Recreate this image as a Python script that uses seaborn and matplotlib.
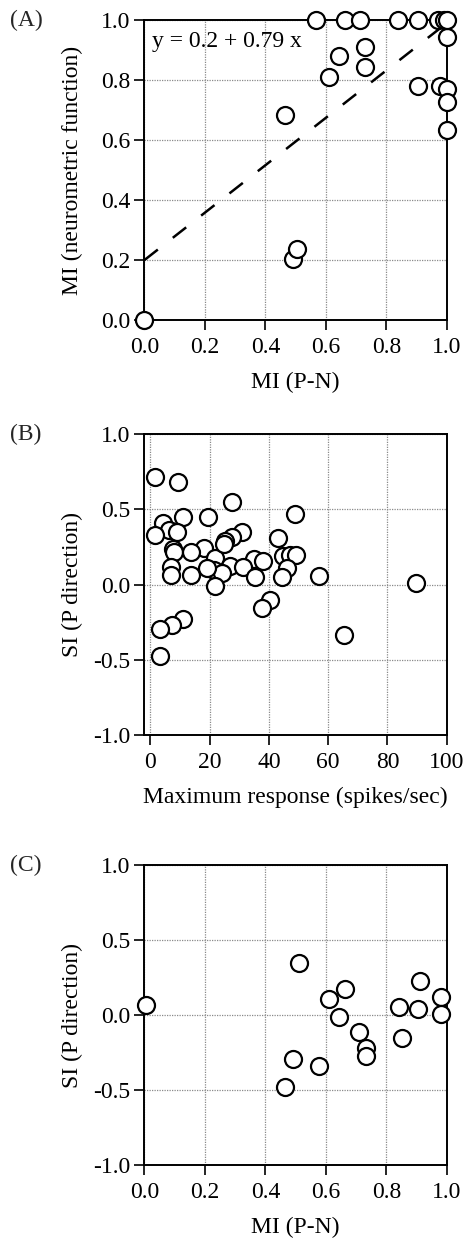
import numpy as np
import pandas as pd
import matplotlib
matplotlib.use("Agg")
import matplotlib.pyplot as plt
import seaborn as sns

# ---------------- data ----------------
# Panel A: MI (P-N) vs MI (neurometric function)
a_x = [0.0, 0.49, 0.505, 0.465, 0.568, 0.609, 0.645, 0.664, 0.714, 0.73, 0.73,
       0.84, 0.905, 0.905, 0.97, 0.978, 0.99, 1.0, 1.0, 1.0, 1.0, 1.0]
a_y = [0.0, 0.205, 0.237, 0.683, 1.0, 0.809, 0.88, 1.0, 1.0, 0.911, 0.844,
       1.0, 1.0, 0.781, 1.0, 0.781, 1.0, 0.944, 0.77, 0.728, 0.633, 1.0]
fit_intercept = 0.2
fit_slope = 0.79

# Panel B: maximum response vs SI (P direction)
b_x = [1.7, 9.3, 27.7, 48.8, 11.0, 19.3, 4.1, 6.3, 9.0, 1.7, 30.9, 27.7, 43.0,
       25.3, 18.2, 7.5, 8.1, 13.7, 21.9, 34.8, 38.1, 44.9, 47.1, 49.0, 7.0,
       21.5, 26.9, 31.4, 24.1, 46.0, 7.0, 13.7, 35.4, 44.5, 57.0, 89.6, 21.8,
       40.2, 37.8, 11.0, 7.3, 3.1, 3.1, 65.3, 19.0, 25.0]
b_y = [0.714, 0.68, 0.55, 0.47, 0.45, 0.45, 0.41, 0.36, 0.35, 0.33, 0.35, 0.32,
       0.31, 0.29, 0.245, 0.24, 0.215, 0.215, 0.175, 0.17, 0.16, 0.19, 0.195,
       0.20, 0.12, 0.10, 0.127, 0.118, 0.078, 0.11, 0.065, 0.067, 0.05, 0.05,
       0.055, 0.01, -0.01, -0.104, -0.155, -0.226, -0.266, -0.295, -0.477,
       -0.337, 0.11, 0.27]

# Panel C: MI (P-N) vs SI (P direction)
c_x = [0.005, 0.465, 0.493, 0.512, 0.576, 0.611, 0.645, 0.662, 0.711, 0.733,
       0.733, 0.843, 0.851, 0.906, 0.91, 0.98, 0.98]
c_y = [0.067, -0.482, -0.293, 0.345, -0.34, 0.105, -0.011, 0.171, -0.111,
       -0.222, -0.273, 0.051, -0.151, 0.04, 0.229, 0.118, 0.007]

mi_ticks = [0.0, 0.2, 0.4, 0.6, 0.8, 1.0]
si_ticks = [-1.0, -0.5, 0.0, 0.5, 1.0]
resp_ticks = [0, 20, 40, 60, 80, 100]

# ---------------- style ----------------
sns.set_theme(style="white")
plt.rcParams["font.family"] = ["Liberation Serif", "DejaVu Serif"]
FS = 17
plt.rcParams["font.size"] = FS

fig = plt.figure(figsize=(4.66, 12.39), dpi=100)
axA = fig.add_axes([0.310, 0.7417, 0.6486, 0.2421])
axB = fig.add_axes([0.310, 0.4068, 0.6486, 0.2427])
axC = fig.add_axes([0.310, 0.0597, 0.6486, 0.2421])

marker_kw = dict(s=150, facecolor="white", edgecolor="black", linewidth=1.6,
                 clip_on=False, zorder=5)


def style_axis(ax, xticks, yticks, xfmt, yfmt, xlim, ylim, xlabel, ylabel):
    ax.set_xlim(*xlim)
    ax.set_ylim(*ylim)
    ax.set_xticks(xticks)
    ax.set_yticks(yticks)
    ax.set_xticklabels([xfmt(t) for t in xticks], fontsize=FS)
    ax.set_yticklabels([yfmt(t) for t in yticks], fontsize=FS)
    ax.grid(True, color="#8a8a8a", linestyle=(0, (1, 1)), linewidth=0.9)
    ax.set_axisbelow(True)
    for sp in ax.spines.values():
        sp.set_visible(True)
        sp.set_color("black")
        sp.set_linewidth(1.4)
    ax.tick_params(axis="both", direction="out", length=7.5, width=1.2,
                   color="black", labelcolor="black", bottom=True, left=True)
    ax.tick_params(axis="x", pad=5)
    ax.tick_params(axis="y", pad=2.5)
    ax.set_xlabel(xlabel, fontsize=FS, color="black")
    ax.set_ylabel(ylabel, fontsize=FS, color="black")
    ax.xaxis.set_label_coords(0.5, -0.207)
    ax.xaxis.label.set_va("center")
    ax.yaxis.set_label_coords(-0.237, 0.5)
    ax.yaxis.label.set_va("center")


f1 = lambda t: f"{t:.1f}"
fi = lambda t: f"{int(t)}"

# Panel A
dfA = pd.DataFrame({"x": a_x, "y": a_y})
fit_x = np.array([0.0, 1.0])
dfFit = pd.DataFrame({"x": fit_x, "y": fit_intercept + fit_slope * fit_x})
sns.lineplot(data=dfFit, x="x", y="y", ax=axA, color="black", linewidth=1.8,
             linestyle=(0, (6.8, 7.6)), zorder=3)
sns.scatterplot(data=dfA, x="x", y="y", ax=axA, **marker_kw)
style_axis(axA, mi_ticks, mi_ticks, f1, f1, (0, 1), (0, 1),
           "MI (P-N)", "MI (neurometric function)")
axA.text(0.024, 0.928, f"y = {fit_intercept} + {fit_slope} x",
         transform=axA.transAxes,
         fontsize=FS, ha="left", va="center", color="black", zorder=6)

# Panel B
dfB = pd.DataFrame({"x": b_x, "y": b_y})
sns.scatterplot(data=dfB, x="x", y="y", ax=axB, **marker_kw)
style_axis(axB, resp_ticks, si_ticks, fi, f1, (-2, 100), (-1, 1),
           "Maximum response (spikes/sec)", "SI (P direction)")

# Panel C
dfC = pd.DataFrame({"x": c_x, "y": c_y})
sns.scatterplot(data=dfC, x="x", y="y", ax=axC, **marker_kw)
style_axis(axC, mi_ticks, si_ticks, f1, f1, (0, 1), (-1, 1),
           "MI (P-N)", "SI (P direction)")

# panel letters
for lab, ypx in [("(A)", 20), ("(B)", 434), ("(C)", 865)]:
    fig.text(10 / 466, 1 - ypx / 1239, lab, fontsize=FS, ha="left", va="center")

fig.savefig("out.png", dpi=100)
